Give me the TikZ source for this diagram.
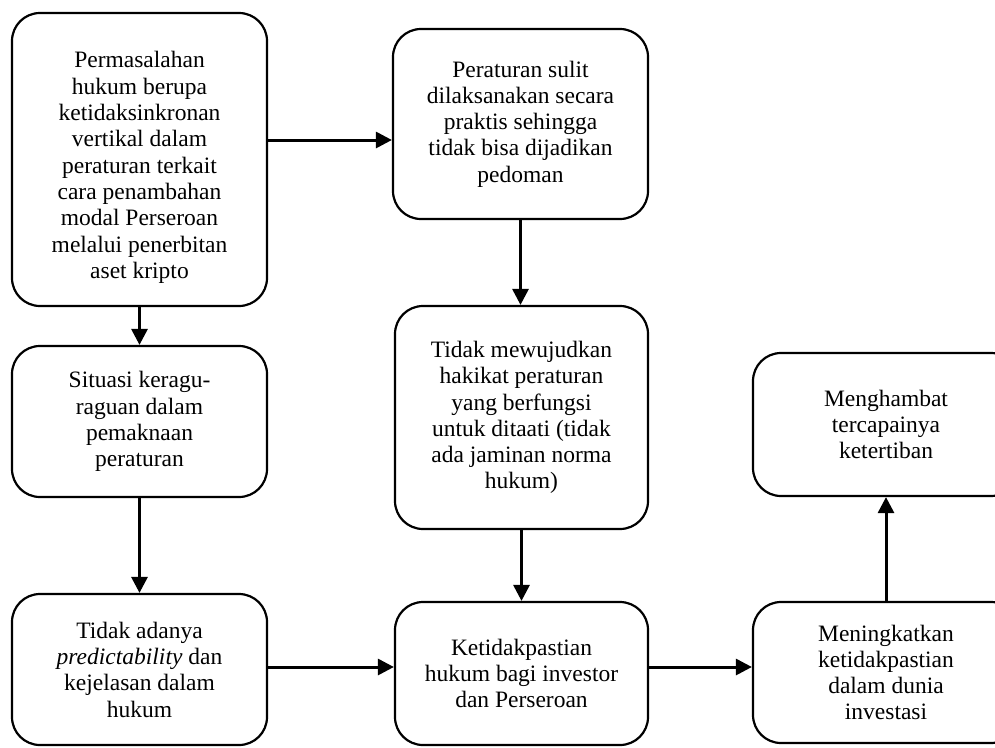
\documentclass[tikz,border=0pt]{standalone}
\usepackage{fontspec}
\setmainfont{Liberation Serif}
\usetikzlibrary{arrows.meta}
\begin{document}
\begin{tikzpicture}[x=1pt,y=-1pt,
  boxtext/.style={align=center, inner sep=0pt, font=\fontsize{23.5}{26.3}\selectfont},
  flowbox/.style={draw, line width=2.2pt, rounded corners=28pt, boxtext},
  arr/.style={line width=3pt, -{Triangle[length=16pt,width=16pt]}}]
  \useasboundingbox (0,0) rectangle (995,747);

  % left column
  \node[flowbox, minimum width=255pt, minimum height=293pt] (A) at (139.5,159.5) {};
  \node[boxtext] (Atext) at ([yshift=-8pt]A.center)
    {Permasalahan\\hukum berupa\\ketidaksinkronan\\vertikal dalam\\peraturan terkait\\cara penambahan\\modal Perseroan\\melalui penerbitan\\aset kripto};
  \node[flowbox, minimum width=255pt, minimum height=151pt] (C) at (139.5,421.5)
    {Situasi keragu-\\raguan dalam\\pemaknaan\\peraturan};
  \node[flowbox, minimum width=255pt, minimum height=151pt] (D) at (139.5,669.5)
    {Tidak adanya\\\textit{predictability} dan\\kejelasan dalam\\hukum};

  % middle column
  \node[flowbox, minimum width=255pt, minimum height=190pt] (B) at (520.5,124)
    {Peraturan sulit\\dilaksanakan secara\\praktis sehingga\\tidak bisa dijadikan\\pedoman};
  \node[flowbox, minimum width=253pt, minimum height=223pt] (E) at (521.5,417.5)
    {Tidak mewujudkan\\hakikat peraturan\\yang berfungsi\\untuk ditaati (tidak\\ada jaminan norma\\hukum)};
  \node[flowbox, minimum width=253pt, minimum height=143pt] (F) at (521.5,673.5)
    {Ketidakpastian\\hukum bagi investor\\dan Perseroan};

  % right column
  \node[flowbox, minimum width=266pt, minimum height=143pt] (G) at (886,424.5)
    {Menghambat\\tercapainya\\ketertiban};
  \node[flowbox, minimum width=266pt, minimum height=141pt] (H) at (886,672.5)
    {Meningkatkan\\ketidakpastian\\dalam dunia\\investasi};

  % connectors
  \draw[arr] (A.east |- 0,140) -- (B.west |- 0,140);
  \draw[arr] (A.south) -- (C.north);
  \draw[arr] (C.south) -- (D.north);
  \draw[arr] (B.south) -- (B.south |- E.north);
  \draw[arr] (E.south) -- (F.north);
  \draw[arr] (D.east |- 0,667) -- (F.west |- 0,667);
  \draw[arr] (F.east |- 0,667) -- (H.west |- 0,667);
  \draw[arr] (H.north) -- (G.south);
\end{tikzpicture}
\end{document}
